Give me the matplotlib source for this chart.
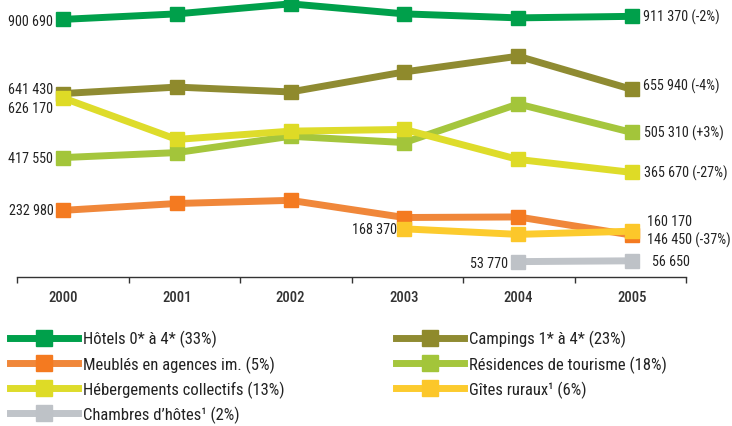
import numpy as np
import matplotlib
matplotlib.use("Agg")
import matplotlib.pyplot as plt
from matplotlib.lines import Line2D

plt.rcParams['font.family'] = ['Roboto Condensed', 'DejaVu Sans']

# -------------------------------
# Data: nights per accommodation type, 2000-2005
# -------------------------------
years = ["2000", "2001", "2002", "2003", "2004", "2005"]
nan = np.nan

hotels = [900690, 920000, 955000, 920000, 906000, 911370]
campings = [641430, 664000, 647000, 717000, 772000, 655940]
meubles = [232980, 257000, 268000, 208000, 210000, 146450]
residences = [417550, 435000, 492000, 470000, 605000, 505310]
hebergements = [626170, 481000, 510000, 516000, 411000, 365670]
gites = [nan, nan, nan, 168370, 149000, 160170]
chambres = [nan, nan, nan, nan, 53770, 56650]

labels = {
    "hotels": "Hôtels 0* à 4* (33%)",
    "campings": "Campings 1* à 4* (23%)",
    "meubles": "Meublés en agences im. (5%)",
    "residences": "Résidences de tourisme (18%)",
    "hebergements": "Hébergements collectifs (13%)",
    "gites": "Gîtes ruraux\u00b9 (6%)",
    "chambres": "Chambres d\u2019hôtes\u00b9 (2%)",
}

# line colour, marker colour
colors = {
    "hotels": ("#00A04B", "#00A04B"),
    "campings": ("#8F8B32", "#8F8A2C"),
    "meubles": ("#F0873A", "#F47A20"),
    "residences": ("#A5C63D", "#A3C53A"),
    "hebergements": ("#DEDC2B", "#DEDB26"),
    "gites": ("#FCCB2E", "#FCC72A"),
    "chambres": ("#C0C4C9", "#BEC2C7"),
}

series = {
    "hotels": hotels,
    "campings": campings,
    "meubles": meubles,
    "residences": residences,
    "hebergements": hebergements,
    "gites": gites,
    "chambres": chambres,
}

W, H = 732, 427
fig = plt.figure(figsize=(W / 100, H / 100), dpi=100)

# axes spans px 17..686 horizontally, baseline at px 278, top at px 0
ax = fig.add_axes([17 / W, (H - 278) / H, (686 - 17) / W, 278 / H])
x = np.arange(len(years))
ax.set_xlim(-0.404, 5.475)
ax.set_ylim(0, 972000)

draw_order = ["hotels", "campings", "meubles", "residences", "hebergements", "gites", "chambres"]
for key in draw_order:
    lc, mc = colors[key]
    ax.plot(x, series[key], color=lc, lw=5, marker="s", ms=10,
            markerfacecolor=mc, markeredgecolor=mc, solid_joinstyle="miter",
            clip_on=False, zorder=3)

# axis styling: only the bottom line with small ticks between years
for s in ["top", "left", "right"]:
    ax.spines[s].set_visible(False)
ax.spines["bottom"].set_color("#333333")
ax.spines["bottom"].set_linewidth(1)
ax.set_yticks([])
ax.set_xticks(x)
ax.set_xticklabels(years, fontsize=10.5, fontweight="medium", color="#333333")
ax.tick_params(axis="x", which="major", length=0, pad=9)
ax.set_xticks(np.linspace(-0.404, 5.475, 7), minor=True)
ax.tick_params(axis="x", which="minor", length=4, width=1, color="#333333", direction="out")
ax.patch.set_alpha(0)

txt = dict(fontsize=10.2, color="#222222", va="center")


def lab(xi, val, text, dx, dy=0, ha="left"):
    ax.annotate(text, xy=(xi, val), xytext=(dx, dy), textcoords="offset points",
                ha=ha, **txt)


def fmt(v):
    return f"{v:,.0f}".replace(",", " ")


# left-hand values (2000)
lab(0, hotels[0], fmt(hotels[0]), -7, -1, "right")
lab(0, campings[0], fmt(campings[0]), -7, 3, "right")
lab(0, hebergements[0], fmt(hebergements[0]), -7, -7, "right")
lab(0, residences[0], fmt(residences[0]), -7, 0, "right")
lab(0, meubles[0], fmt(meubles[0]), -7, 0, "right")

# right-hand values (2005)
lab(5, hotels[5], fmt(hotels[5]) + " (-2%)", 8, 0)
lab(5, campings[5], fmt(campings[5]) + " (-4%)", 8, 3)
lab(5, residences[5], fmt(residences[5]) + " (+3%)", 9, 0)
lab(5, hebergements[5], fmt(hebergements[5]) + " (-27%)", 9, 0)
lab(5, gites[5], fmt(gites[5]), 11, 7)
lab(5, meubles[5], fmt(meubles[5]) + " (-37%)", 11, -3)
lab(5, chambres[5], fmt(chambres[5]), 42, 0, "right")

# labels at the first point of the shorter series
lab(3, gites[3], fmt(gites[3]), -5, 0, "right")
lab(4, chambres[4], fmt(chambres[4]), -7, -1, "right")


def handle(key):
    lc, mc = colors[key]
    return Line2D([], [], color=lc, lw=5, marker="s", ms=11,
                  markerfacecolor=mc, markeredgecolor=mc)


col1 = ["hotels", "meubles", "hebergements", "chambres"]
col2 = ["campings", "residences", "gites"]
leg_kw = dict(frameon=False, fontsize=12, handlelength=4.1, handletextpad=0.3,
              labelspacing=0.48, borderpad=0, borderaxespad=0, labelcolor="#222222",
              loc="upper left")
leg1 = fig.legend([handle(k) for k in col1], [labels[k] for k in col1],
                  bbox_to_anchor=(10 / W, 1 - 331 / H), **leg_kw)
leg2 = fig.legend([handle(k) for k in col2], [labels[k] for k in col2],
                  bbox_to_anchor=(396 / W, 1 - 331 / H), **leg_kw)

fig.savefig("out.png", dpi=100)
